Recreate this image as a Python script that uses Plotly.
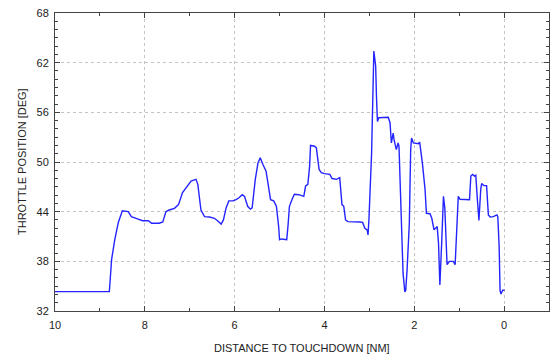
import plotly.graph_objects as go

distance = [10.0, 8.79, 8.74, 8.67, 8.59, 8.50, 8.37, 8.30, 8.18, 8.05, 7.92, 7.85, 7.68, 7.60,
            7.53, 7.46, 7.34, 7.25, 7.16, 7.05, 6.97, 6.86, 6.82, 6.75, 6.67, 6.56, 6.45, 6.38,
            6.30, 6.25, 6.19, 6.13, 6.04, 5.97, 5.91, 5.83, 5.78, 5.71, 5.65, 5.61, 5.54, 5.48,
            5.43, 5.37, 5.30, 5.26, 5.20, 5.13, 5.07, 5.02, 5.00, 4.96, 4.89, 4.84, 4.81, 4.78,
            4.72, 4.67, 4.57, 4.46, 4.42, 4.37, 4.33, 4.31, 4.22, 4.18, 4.12, 4.07, 4.00, 3.88,
            3.83, 3.73, 3.66, 3.64, 3.61, 3.57, 3.53, 3.48, 3.33, 3.21, 3.15, 3.10, 3.05, 3.03,
            3.01, 2.95, 2.90, 2.86, 2.84, 2.82, 2.79, 2.69, 2.58, 2.54, 2.51, 2.47, 2.45, 2.40,
            2.36, 2.34, 2.31, 2.27, 2.25, 2.21, 2.19, 2.16, 2.11, 2.08, 2.06, 2.02, 1.91, 1.88,
            1.82, 1.76, 1.73, 1.65, 1.61, 1.56, 1.52, 1.49, 1.46, 1.43, 1.39, 1.35, 1.32, 1.29,
            1.27, 1.22, 1.13, 1.09, 1.06, 1.02, 0.98, 0.87, 0.77, 0.74, 0.70, 0.66, 0.63, 0.60,
            0.56, 0.52, 0.50, 0.45, 0.39, 0.35, 0.31, 0.24, 0.16, 0.14, 0.11, 0.09, 0.07, 0.03,
            -0.01]
throttle = [34.34, 34.34, 38.2, 40.6, 42.7, 44.1, 44.0, 43.4, 43.15, 42.9, 42.9, 42.6, 42.6, 42.75,
            44.0, 44.2, 44.4, 44.85, 46.3, 47.1, 47.7, 47.9, 47.3, 44.2, 43.4, 43.35, 43.2, 42.9,
            42.5, 43.0, 44.45, 45.3, 45.3, 45.45, 45.65, 46.05, 45.85, 44.65, 44.3, 44.45, 47.9, 49.9,
            50.5, 49.7, 48.9, 47.5, 45.45, 45.3, 44.65, 42.2, 40.6, 40.7, 40.6, 40.6, 42.4, 44.65,
            45.5, 46.1, 46.05, 45.85, 47.1, 47.3, 49.5, 52.0, 51.9, 51.7, 49.1, 48.7, 48.6, 48.5,
            48.0, 47.9, 48.1, 47.1, 44.85, 44.65, 43.0, 42.8, 42.8, 42.75, 42.7, 42.0, 41.8, 41.2,
            43.0, 51.1, 63.4, 61.6, 57.6, 54.9, 55.35, 55.35, 55.4, 54.75, 52.3, 53.5, 52.7, 51.5,
            52.3, 51.9, 46.7, 40.6, 36.6, 34.3, 34.5, 37.0, 42.6, 51.5, 52.9, 52.3, 52.2, 52.4,
            49.9, 46.7, 43.8, 43.75, 43.2, 41.8, 42.0, 42.2, 40.2, 35.15, 40.2, 45.85, 44.45, 39.4,
            37.6, 38.0, 38.0, 37.6, 41.4, 45.85, 45.5, 45.5, 45.45, 48.3, 48.5, 48.3, 48.4, 45.85,
            42.95, 46.7, 47.4, 47.15, 47.15, 43.6, 43.35, 43.4, 43.6, 43.4, 39.8, 34.5, 34.05, 34.5,
            34.5]

x_ticks = [10, 8, 6, 4, 2, 0]
y_ticks = [32, 38, 44, 50, 56, 62, 68]

FONT = "Liberation Sans, Arial"

fig = go.Figure(go.Scatter(x=distance, y=throttle, mode="lines",
                           line=dict(color="#2424ff", width=1.4), showlegend=False))

axis_common = dict(
    automargin=False,
    showline=True, linecolor="#444444", linewidth=1, mirror="allticks",
    ticks="inside", ticklen=5, tickcolor="#444444", tickwidth=1,
    showgrid=True, gridcolor="#c4c4c4", griddash="dot", gridwidth=1,
    zeroline=False, ticklabeloverflow="allow",
    tickfont=dict(family=FONT, size=11, color="#222222"),
)

fig.update_xaxes(range=[10, -1], tickvals=x_ticks, ticklabelstandoff=4,
                 minor=dict(dtick=1, ticks="inside", ticklen=3, tickcolor="#444444", showgrid=False),
                 **axis_common)
fig.update_yaxes(range=[32, 68], tickvals=y_ticks, ticklabelstandoff=3,
                 minor=dict(dtick=1, ticks="inside", ticklen=3, tickcolor="#444444", showgrid=False),
                 **axis_common)

fig.update_layout(width=550, height=359, margin=dict(l=55, r=1, t=13, b=48),
                  plot_bgcolor="white", paper_bgcolor="white",
                  annotations=[
                      dict(text="DISTANCE TO TOUCHDOWN [NM]", xref="paper", yref="paper",
                           x=0.5, y=-37 / 298, xanchor="center", yanchor="middle", showarrow=False,
                           font=dict(family=FONT, size=11, color="#222222")),
                      dict(text="THROTTLE POSITION [DEG]", xref="paper", yref="paper",
                           x=-33 / 494, y=0.5, xanchor="center", yanchor="middle", showarrow=False,
                           textangle=-90, font=dict(family=FONT, size=11, color="#222222")),
                  ])

fig.write_html("out.html", config={"displayModeBar": False},
               post_script="document.body.style.margin='0';document.body.style.overflow='hidden';")
